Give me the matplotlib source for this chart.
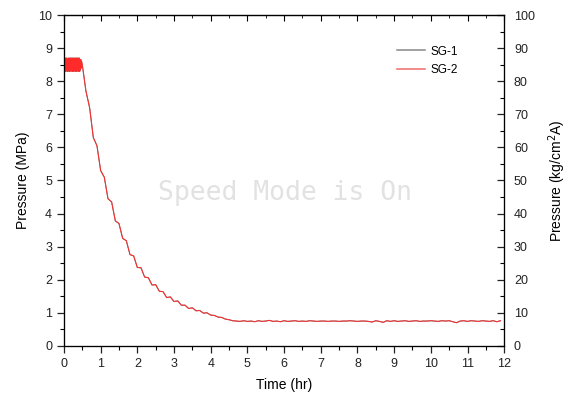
import matplotlib
matplotlib.use("Agg")
import matplotlib.pyplot as plt
import numpy as np
from matplotlib.ticker import MultipleLocator

plt.rcParams['font.family'] = ['Liberation Sans', 'DejaVu Sans']

# ---- data ----
t_start = [0.0, 0.005, 0.01, 0.02, 0.03, 0.04, 0.05, 0.06, 0.07, 0.08, 0.09, 0.10,
           0.11, 0.12, 0.13, 0.14, 0.15, 0.16, 0.17, 0.18, 0.19, 0.20, 0.21, 0.22,
           0.23, 0.24, 0.25, 0.26, 0.27, 0.28, 0.29, 0.30, 0.31, 0.32, 0.33, 0.34,
           0.35, 0.36, 0.37, 0.38, 0.39, 0.40, 0.41, 0.42, 0.43, 0.44, 0.45, 0.46,
           0.47, 0.48]
p_start = [7.4, 8.8, 8.3, 8.7, 8.35, 8.7, 8.3, 8.7, 8.35, 8.7, 8.3, 8.65,
           8.3, 8.7, 8.35, 8.7, 8.3, 8.7, 8.35, 8.7, 8.3, 8.7, 8.35, 8.7,
           8.3, 8.7, 8.35, 8.7, 8.3, 8.7, 8.35, 8.7, 8.3, 8.7, 8.35, 8.7,
           8.3, 8.7, 8.35, 8.7, 8.3, 8.7, 8.35, 8.7, 8.3, 8.65, 8.35, 8.65,
           8.4, 8.6]

t_decay = [0.5, 0.6, 0.7, 0.8, 0.9, 1.0, 1.1, 1.2, 1.3, 1.4, 1.5, 1.6, 1.7, 1.8,
           1.9, 2.0, 2.1, 2.2, 2.3, 2.4, 2.5, 2.6, 2.7, 2.8, 2.9, 3.0, 3.1, 3.2,
           3.3, 3.4, 3.5, 3.6, 3.7, 3.8, 3.9, 4.0, 4.1, 4.2, 4.3, 4.4, 4.5, 4.6, 4.7]
p_decay = [8.5, 7.7, 7.2, 6.3, 6.05, 5.3, 5.1, 4.45, 4.35, 3.78, 3.7, 3.25, 3.18, 2.76,
           2.72, 2.37, 2.36, 2.08, 2.06, 1.84, 1.85, 1.65, 1.64, 1.46, 1.48, 1.34, 1.36, 1.23,
           1.23, 1.13, 1.15, 1.06, 1.07, 0.99, 1.0, 0.93, 0.92, 0.87, 0.86, 0.81, 0.79, 0.76, 0.75]

t_flat = [4.8, 4.9, 5.0, 5.1, 5.2, 5.3, 5.4, 5.5, 5.6, 5.7, 5.8, 5.9,
          6.0, 6.1, 6.2, 6.3, 6.4, 6.5, 6.6, 6.7, 6.8, 6.9,
          7.0, 7.1, 7.2, 7.3, 7.4, 7.5, 7.6, 7.7, 7.8, 7.9,
          8.0, 8.1, 8.2, 8.3, 8.4, 8.5, 8.6, 8.7, 8.8, 8.9,
          9.0, 9.1, 9.2, 9.3, 9.4, 9.5, 9.6, 9.7, 9.8, 9.9,
          10.0, 10.1, 10.2, 10.3, 10.4, 10.5, 10.6, 10.7, 10.8, 10.9,
          11.0, 11.1, 11.2, 11.3, 11.4, 11.5, 11.6, 11.7, 11.8, 11.9]
p_flat = [0.74, 0.76, 0.74, 0.75, 0.73, 0.76, 0.74, 0.75, 0.77, 0.74, 0.75, 0.73,
          0.76, 0.74, 0.75, 0.76, 0.74, 0.75, 0.74, 0.76, 0.75, 0.74,
          0.75, 0.75, 0.74, 0.75, 0.75, 0.74, 0.75, 0.75, 0.76, 0.75,
          0.74, 0.75, 0.75, 0.74, 0.72, 0.76, 0.74, 0.71, 0.76, 0.74,
          0.76, 0.74, 0.75, 0.76, 0.74, 0.75, 0.76, 0.74, 0.75, 0.75,
          0.76, 0.75, 0.74, 0.76, 0.75, 0.76, 0.73, 0.70, 0.75, 0.76,
          0.74, 0.76, 0.75, 0.74, 0.76, 0.75, 0.74, 0.76, 0.73, 0.76]

time_hr = t_start + t_decay + t_flat
sg2 = p_start + p_decay + p_flat
sg1 = sg2  # SG-1 lies underneath SG-2

x_ticks = list(range(0, 13))
left_ticks = list(range(0, 11))
right_ticks = list(range(0, 101, 10))

fig = plt.figure(figsize=(5.71, 3.98), dpi=100)
ax = fig.add_axes([0.112, 0.131, 0.771, 0.831])

ax.plot(time_hr, sg1, color='#808080', lw=0.8, label='SG-1')
ax.plot(time_hr, sg2, color='#ff2a2a', lw=0.7, label='SG-2')

ax.set_xlim(0, 12)
ax.set_ylim(0, 10)
ax.set_xticks(x_ticks)
ax.set_yticks(left_ticks)
ax.xaxis.set_minor_locator(MultipleLocator(0.5))
ax.yaxis.set_minor_locator(MultipleLocator(0.5))
ax.tick_params(which='major', direction='out', length=5, width=0.9, labelsize=9, colors='#222222')
ax.tick_params(which='minor', direction='out', length=3, width=0.8)
for s in ax.spines.values():
    s.set_linewidth(0.9)
    s.set_color('#222222')

ax.set_xlabel('Time (hr)', fontsize=10, labelpad=6)
ax.set_ylabel('Pressure (MPa)', fontsize=10, labelpad=6)

top = ax.secondary_xaxis('top')
top.set_xticks(x_ticks)
top.xaxis.set_minor_locator(MultipleLocator(0.5))
top.tick_params(which='major', direction='in', length=4, labeltop=False)
top.tick_params(which='minor', direction='in', length=2.5)

ax2 = ax.twinx()
ax2.set_ylim(0, 100)
ax2.set_yticks(right_ticks)
ax2.yaxis.set_minor_locator(MultipleLocator(5))
ax2.tick_params(which='major', direction='in', length=5, width=0.9, labelsize=9,
                colors='#222222', pad=7)
ax2.tick_params(which='minor', direction='in', length=3, width=0.8)
ax2.set_ylabel('Pressure (kg/cm$^2$A)', fontsize=10, labelpad=8)

leg = ax.legend(loc='upper right', bbox_to_anchor=(0.92, 0.94), frameon=False,
                fontsize=8.5, handlelength=2.4, labelspacing=0.55, handletextpad=0.5)
leg_colors = ['#888888', '#f06a6a']
for ln, c in zip(leg.get_lines(), leg_colors):
    ln.set_linewidth(1.1)
    ln.set_color(c)

fig.text(0.50, 0.515, 'Speed Mode is On', family='DejaVu Sans Mono', fontsize=19,
         color='#e2e2e2', ha='center', va='center')

fig.savefig('out.png', dpi=100)
